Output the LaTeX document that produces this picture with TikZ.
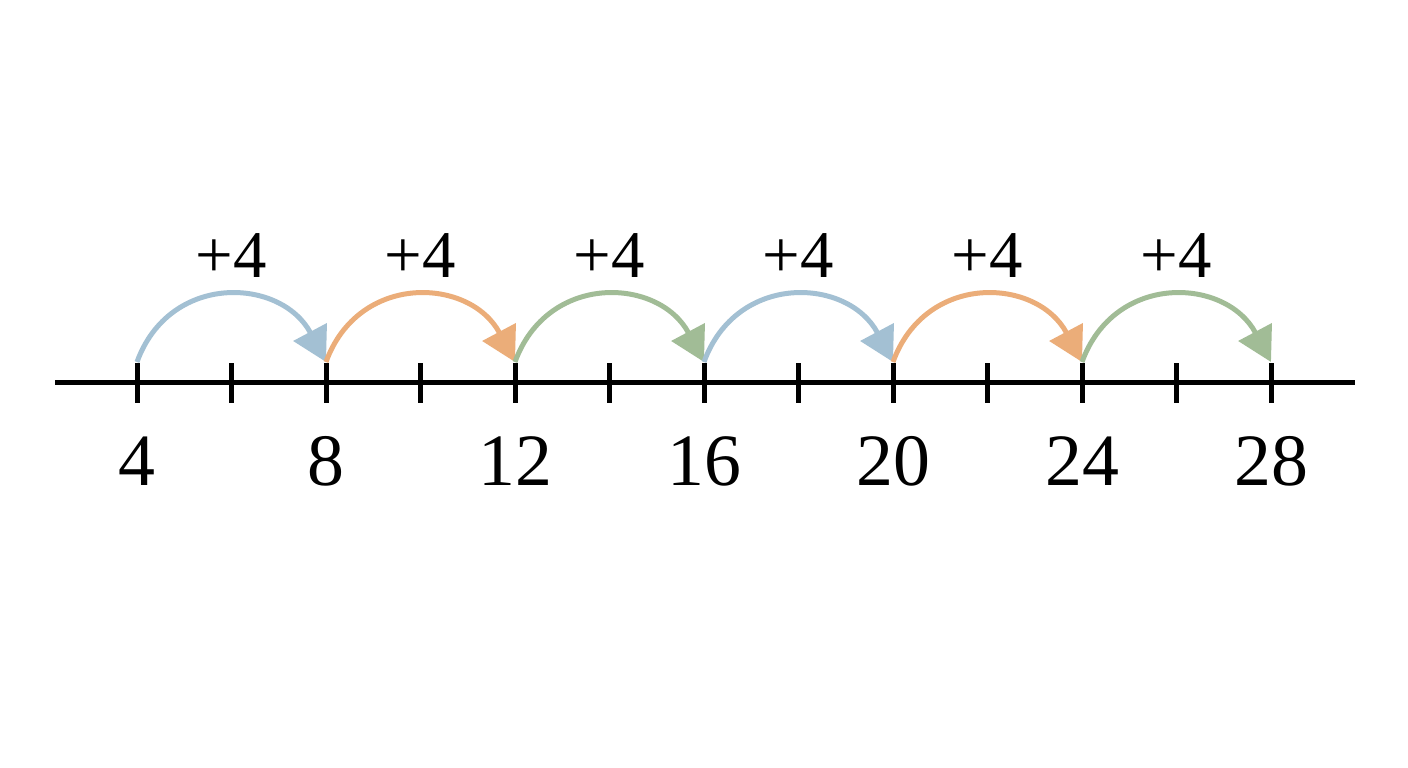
\documentclass[tikz,border=0pt]{standalone}
\usepackage{fontspec}
\setmainfont{Liberation Serif}
\usetikzlibrary{arrows.meta,positioning}
\definecolor{jumpblue}{RGB}{163,192,211}
\definecolor{jumporange}{RGB}{235,173,121}
\definecolor{jumpgreen}{RGB}{161,188,150}
\tikzset{
  axisline/.style={line width=0.05cm,black},
  tickmark/.style={line width=0.05cm,black},
  numlabel/.style={font=\fontsize{21}{25}\selectfont},
  steplabel/.style={font=\fontsize{19}{23}\selectfont},
  jump/.style={line width=0.05cm,-{Triangle[length=0.34cm,width=0.37cm]},
               out=70,in=118,looseness=1.3},
}
\begin{document}
\begin{tikzpicture}
                    \useasboundingbox (0,0) rectangle (14.080000,7.680000);
                    
                    % Drawing axis
                    \coordinate (axisL) at (0.550000,3.850000);
                    \coordinate (axisR) at (13.550000,3.850000);
                    \draw [axisline] (axisL) -- (axisR);%
                    
                    % Drawing ticks
                    \draw [tickmark] (1.370000,3.650000) -- (1.370000,4.050000);%
                    \draw [tickmark] (2.315000,3.650000) -- (2.315000,4.050000);%
                    \draw [tickmark] (3.260000,3.650000) -- (3.260000,4.050000);%
                    \draw [tickmark] (4.205000,3.650000) -- (4.205000,4.050000);%
                    \draw [tickmark] (5.150000,3.650000) -- (5.150000,4.050000);%
                    \draw [tickmark] (6.095000,3.650000) -- (6.095000,4.050000);%
                    \draw [tickmark] (7.040000,3.650000) -- (7.040000,4.050000);%
                    \draw [tickmark] (7.985000,3.650000) -- (7.985000,4.050000);%
                    \draw [tickmark] (8.930000,3.650000) -- (8.930000,4.050000);%
                    \draw [tickmark] (9.875000,3.650000) -- (9.875000,4.050000);%
                    \draw [tickmark] (10.820000,3.650000) -- (10.820000,4.050000);%
                    \draw [tickmark] (11.765000,3.650000) -- (11.765000,4.050000);%
                    \draw [tickmark] (12.710000,3.650000) -- (12.710000,4.050000);%
                    
                    % Marking tick tops
                    \coordinate (t4) at (1.370000,4.060000);
                    \coordinate (t8) at (3.260000,4.060000);
                    \coordinate (t12) at (5.150000,4.060000);
                    \coordinate (t16) at (7.040000,4.060000);
                    \coordinate (t20) at (8.930000,4.060000);
                    \coordinate (t24) at (10.820000,4.060000);
                    \coordinate (t28) at (12.710000,4.060000);
                    
                    % Marking numbers
                    \node [numlabel] (n4) at (1.370000,3.070000) {4};%
                    \node [numlabel] (n8) at (3.260000,3.070000) {8};%
                    \node [numlabel] (n12) at (5.150000,3.070000) {12};%
                    \node [numlabel] (n16) at (7.040000,3.070000) {16};%
                    \node [numlabel] (n20) at (8.930000,3.070000) {20};%
                    \node [numlabel] (n24) at (10.820000,3.070000) {24};%
                    \node [numlabel] (n28) at (12.710000,3.070000) {28};%
                    
                    % Drawing jumps
                    \draw [jump,jumpblue] (t4) to (t8);%
                    \draw [jump,jumporange] (t8) to (t12);%
                    \draw [jump,jumpgreen] (t12) to (t16);%
                    \draw [jump,jumpblue] (t16) to (t20);%
                    \draw [jump,jumporange] (t20) to (t24);%
                    \draw [jump,jumpgreen] (t24) to (t28);%
                    
                    % Marking jump labels
                    \node [steplabel] (p1) at (2.315000,5.120000) {+4};%
                    \node [steplabel] (p2) at (4.205000,5.120000) {+4};%
                    \node [steplabel] (p3) at (6.095000,5.120000) {+4};%
                    \node [steplabel] (p4) at (7.985000,5.120000) {+4};%
                    \node [steplabel] (p5) at (9.875000,5.120000) {+4};%
                    \node [steplabel] (p6) at (11.765000,5.120000) {+4};%
\end{tikzpicture}
\end{document}
